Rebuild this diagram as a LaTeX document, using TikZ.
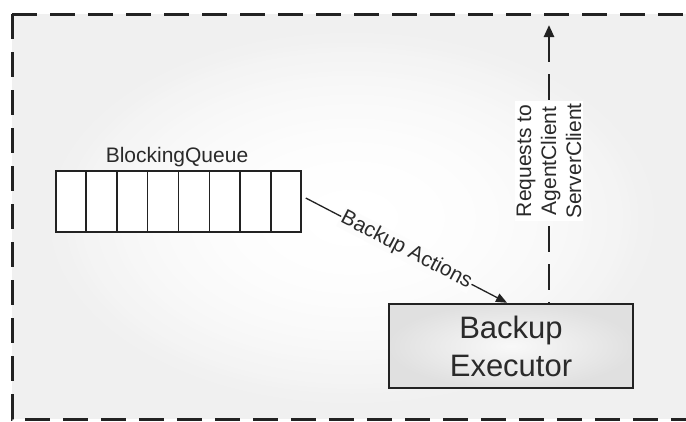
\documentclass[tikz,border=0pt]{standalone}
\usepackage{fontspec}
\setmainfont{Liberation Sans}
\usetikzlibrary{arrows.meta,calc}
\definecolor{bg}{HTML}{F0F0F0}
\definecolor{ln}{HTML}{222222}
\definecolor{tx}{HTML}{2A2A2A}
\tikzset{
  frameline/.style={ln, line width=3pt, dash pattern=on 25pt off 13pt},
  queuebox/.style={draw=ln, line width=1.5pt, fill=white, minimum width=245pt, minimum height=61pt, inner sep=0pt},
  execbox/.style={draw=ln, line width=2.5pt, inner color=gray!5, outer color=gray!24, minimum width=244pt, minimum height=84pt, inner sep=0pt, align=center, text=tx, font=\fontsize{31}{38}\selectfont},
  lbl/.style={text=tx, font=\fontsize{21}{25}\selectfont, inner sep=1pt},
  flowline/.style={ln, line width=1.3pt, -{Triangle[length=11pt,width=9pt]}},
  reqline/.style={ln, line width=2.5pt, dash pattern=on 26pt off 12pt, {Triangle[length=12pt,width=10pt]}-}
}
\begin{document}
\begin{tikzpicture}[x=1pt,y=-1pt]
\useasboundingbox (0,0) rectangle (686,421);
\begin{scope}
\clip (0,0) rectangle (686,421);
\fill[bg] (12,14) rectangle (700,419);
\foreach \i in {0,...,39} {
  \pgfmathsetmacro\r{1-\i/40}
  \pgfmathsetmacro\p{100*\r*\r}
  \fill[bg!\p!white] (352,218) ellipse [x radius=310*\r, y radius=190*\r];
}
\draw[frameline] (12,14) -- (700,14);
\draw[frameline] (12,14) -- (12,419) -- (700,419);
\end{scope}

\node[queuebox] (queue) at (178.5,201.5) {};
\foreach \k in {1,...,7} {
  \draw[ln, line width=1.5pt] ($(queue.north west)!\k/8!(queue.north east)$) -- ($(queue.south west)!\k/8!(queue.south east)$);
}
\node[lbl, anchor=base] (qlabel) at (177,162) {BlockingQueue};

\node[execbox] (exec) at (511,346) {Backup\\Executor};

\draw[flowline] ([shift={(4,-3.5)}]queue.east) -- node[lbl, sloped, fill=bg!20!white] (actions) {Backup Actions} ([xshift=-4]exec.north);

\coordinate (reqtop) at (549,25);
\draw[reqline] (reqtop) -- ([xshift=38]exec.north);
\node[lbl, fill=white, rotate=90, align=center, inner sep=2pt] (req) at (549,161) {Requests to\\AgentClient\\ServerClient};
\end{tikzpicture}
\end{document}
